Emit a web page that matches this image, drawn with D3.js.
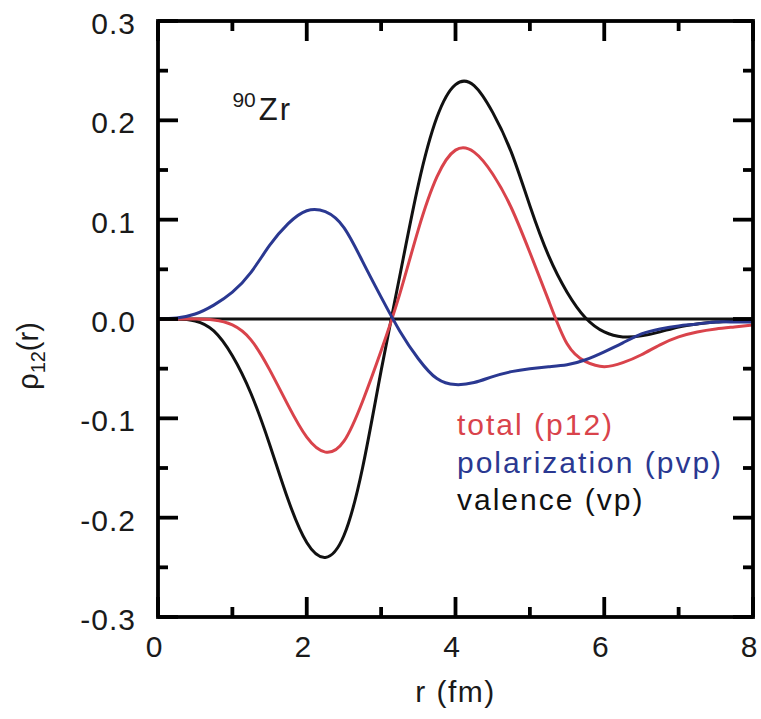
<!DOCTYPE html>
<html>
<head>
<meta charset="utf-8">
<script src="https://cdn.jsdelivr.net/npm/d3@7"></script>
<style>
  body { margin: 0; background: #fff; }
  svg text { font-family: "Liberation Sans", Arial, Helvetica, sans-serif; fill: #1a1a1a; }
</style>
</head>
<body>
<svg id="chart" width="761" height="719"></svg>
<script>
// radius grid (fm)
const radii = [0, 0.25, 0.5, 0.75, 1.0, 1.25, 1.5, 1.75, 2.0, 2.25, 2.5, 2.75, 3.0, 3.25, 3.5, 3.75,
  4.0, 4.25, 4.5, 4.75, 5.0, 5.25, 5.5, 5.75, 6.0, 6.25, 6.5, 6.75, 7.0, 7.25, 7.5, 7.75, 8.0];

// valence (vp)
const valence = [0, 0, -0.002, -0.012, -0.037, -0.075, -0.126, -0.182, -0.225, -0.240, -0.218, -0.150,
  -0.052, 0.043, 0.135, 0.203, 0.236, 0.235, 0.208, 0.168, 0.114, 0.064, 0.027, 0.001,
  -0.013, -0.018, -0.017, -0.013, -0.008, -0.005, -0.003, -0.002, -0.001];

// total (p12)
const total = [0, 0, 0, -0.001, -0.006, -0.021, -0.051, -0.087, -0.119, -0.134, -0.123, -0.083,
  -0.032, 0.025, 0.090, 0.143, 0.170, 0.168, 0.146, 0.112, 0.067, 0.019, -0.025, -0.043,
  -0.048, -0.044, -0.036, -0.026, -0.018, -0.013, -0.010, -0.008, -0.006];

// polarization (pvp)
const polarization = [0, 0.001, 0.005, 0.014, 0.027, 0.047, 0.074, 0.096, 0.109, 0.108, 0.092, 0.058,
  0.022, -0.012, -0.040, -0.060, -0.066, -0.064, -0.058, -0.053, -0.050, -0.048, -0.046, -0.041,
  -0.033, -0.024, -0.015, -0.010, -0.007, -0.005, -0.003, -0.003, -0.003];

const xTicks = [0, 2, 4, 6, 8];
const xMinorTicks = [1, 3, 5, 7];
const xTickLabels = ['0', '2', '4', '6', '8'];
const yTicks = [-0.3, -0.2, -0.1, 0, 0.1, 0.2, 0.3];
const yMinorTicks = [-0.25, -0.15, -0.05, 0.05, 0.15, 0.25];
const yTickLabels = ['-0.3', '-0.2', '-0.1', '0.0', '0.1', '0.2', '0.3'];

const seriesNames = ['total (p12)', 'polarization (pvp)', 'valence (vp)'];
const seriesColors = ['#d9434b', '#2a3891', '#111111'];

const margin = { top: 21, right: 8, bottom: 102, left: 158 };
const width = 761;
const height = 719;
const plotW = width - margin.left - margin.right;
const plotH = height - margin.top - margin.bottom;

const svg = d3.select('#chart');
const g = svg.append('g').attr('transform', `translate(${margin.left},${margin.top})`);

const x = d3.scaleLinear().domain([0, 8]).range([0, plotW]);
const y = d3.scaleLinear().domain([-0.3, 0.3]).range([plotH, 0]);

const majorLen = 20;
const minorLen = 10;
const tickStroke = 3.8;

// zero line
g.append('line')
  .attr('x1', x(0)).attr('x2', x(8))
  .attr('y1', y(0)).attr('y2', y(0))
  .attr('stroke', '#111').attr('stroke-width', 3);

// curves (black first, coloured on top)
const line = d3.line()
  .x((d, i) => x(radii[i]))
  .y(d => y(d))
  .curve(d3.curveNatural);

const seriesData = [valence, total, polarization];
const seriesColorByData = ['#111111', '#d9434b', '#2a3891'];
seriesData.forEach((vals, k) => {
  g.append('path')
    .datum(vals)
    .attr('d', line)
    .attr('fill', 'none')
    .attr('stroke', seriesColorByData[k])
    .attr('stroke-width', 3)
    .attr('stroke-linejoin', 'round');
});

// ticks on all four sides, pointing inward
function drawXTicks(vals, len) {
  vals.forEach(v => {
    g.append('line').attr('x1', x(v)).attr('x2', x(v))
      .attr('y1', plotH).attr('y2', plotH - len)
      .attr('stroke', '#000').attr('stroke-width', tickStroke);
    g.append('line').attr('x1', x(v)).attr('x2', x(v))
      .attr('y1', 0).attr('y2', len)
      .attr('stroke', '#000').attr('stroke-width', tickStroke);
  });
}
function drawYTicks(vals, len) {
  vals.forEach(v => {
    g.append('line').attr('x1', 0).attr('x2', len)
      .attr('y1', y(v)).attr('y2', y(v))
      .attr('stroke', '#000').attr('stroke-width', tickStroke);
    g.append('line').attr('x1', plotW).attr('x2', plotW - len)
      .attr('y1', y(v)).attr('y2', y(v))
      .attr('stroke', '#000').attr('stroke-width', tickStroke);
  });
}
drawXTicks(xTicks, majorLen);
drawXTicks(xMinorTicks, minorLen);
drawYTicks(yTicks, majorLen);
drawYTicks(yMinorTicks, minorLen);

// frame
g.append('rect')
  .attr('x', 0).attr('y', 0)
  .attr('width', plotW).attr('height', plotH)
  .attr('fill', 'none')
  .attr('stroke', '#000')
  .attr('stroke-width', tickStroke);

// tick labels
g.selectAll('.xlabel')
  .data(xTicks)
  .enter().append('text')
  .attr('class', 'xlabel')
  .attr('x', d => x(d) - 4)
  .attr('y', plotH + 40)
  .attr('text-anchor', 'middle')
  .style('font-size', '30px')
  .text((d, i) => xTickLabels[i]);

g.selectAll('.ylabel')
  .data(yTicks)
  .enter().append('text')
  .attr('class', 'ylabel')
  .attr('x', -22)
  .attr('y', d => y(d) + 13)
  .attr('text-anchor', 'end')
  .style('font-size', '30px')
  .style('letter-spacing', '1px')
  .text((d, i) => yTickLabels[i]);

// axis titles
svg.append('text')
  .attr('x', margin.left + plotW / 2)
  .attr('y', 702)
  .attr('text-anchor', 'middle')
  .style('font-size', '30px')
  .style('letter-spacing', '1.5px')
  .text('r (fm)');

const yTitle = svg.append('text')
  .attr('transform', 'translate(38,356) rotate(-90)')
  .attr('text-anchor', 'middle')
  .style('font-size', '29px');
yTitle.append('tspan').text('ρ');
yTitle.append('tspan').attr('dy', 7).style('font-size', '20px').text('12');
yTitle.append('tspan').attr('dy', -7).text('(r)');

// nucleus annotation
const nucleus = g.append('text')
  .attr('x', x(1.0))
  .attr('y', y(0.2))
  .style('font-size', '31px');
nucleus.append('tspan').attr('dy', -13).style('font-size', '21px').text('90');
nucleus.append('tspan').attr('dx', 3).attr('dy', 13).style('letter-spacing', '2px').text('Zr');

// legend text
g.selectAll('.legend')
  .data(seriesNames)
  .enter().append('text')
  .attr('class', 'legend')
  .attr('x', 457 - margin.left)
  .attr('y', (d, i) => 435 - margin.top + i * 37.5)
  .style('font-size', '30px')
  .style('letter-spacing', '2px')
  .style('fill', (d, i) => seriesColors[i])
  .text(d => d);
</script>
</body>
</html>
